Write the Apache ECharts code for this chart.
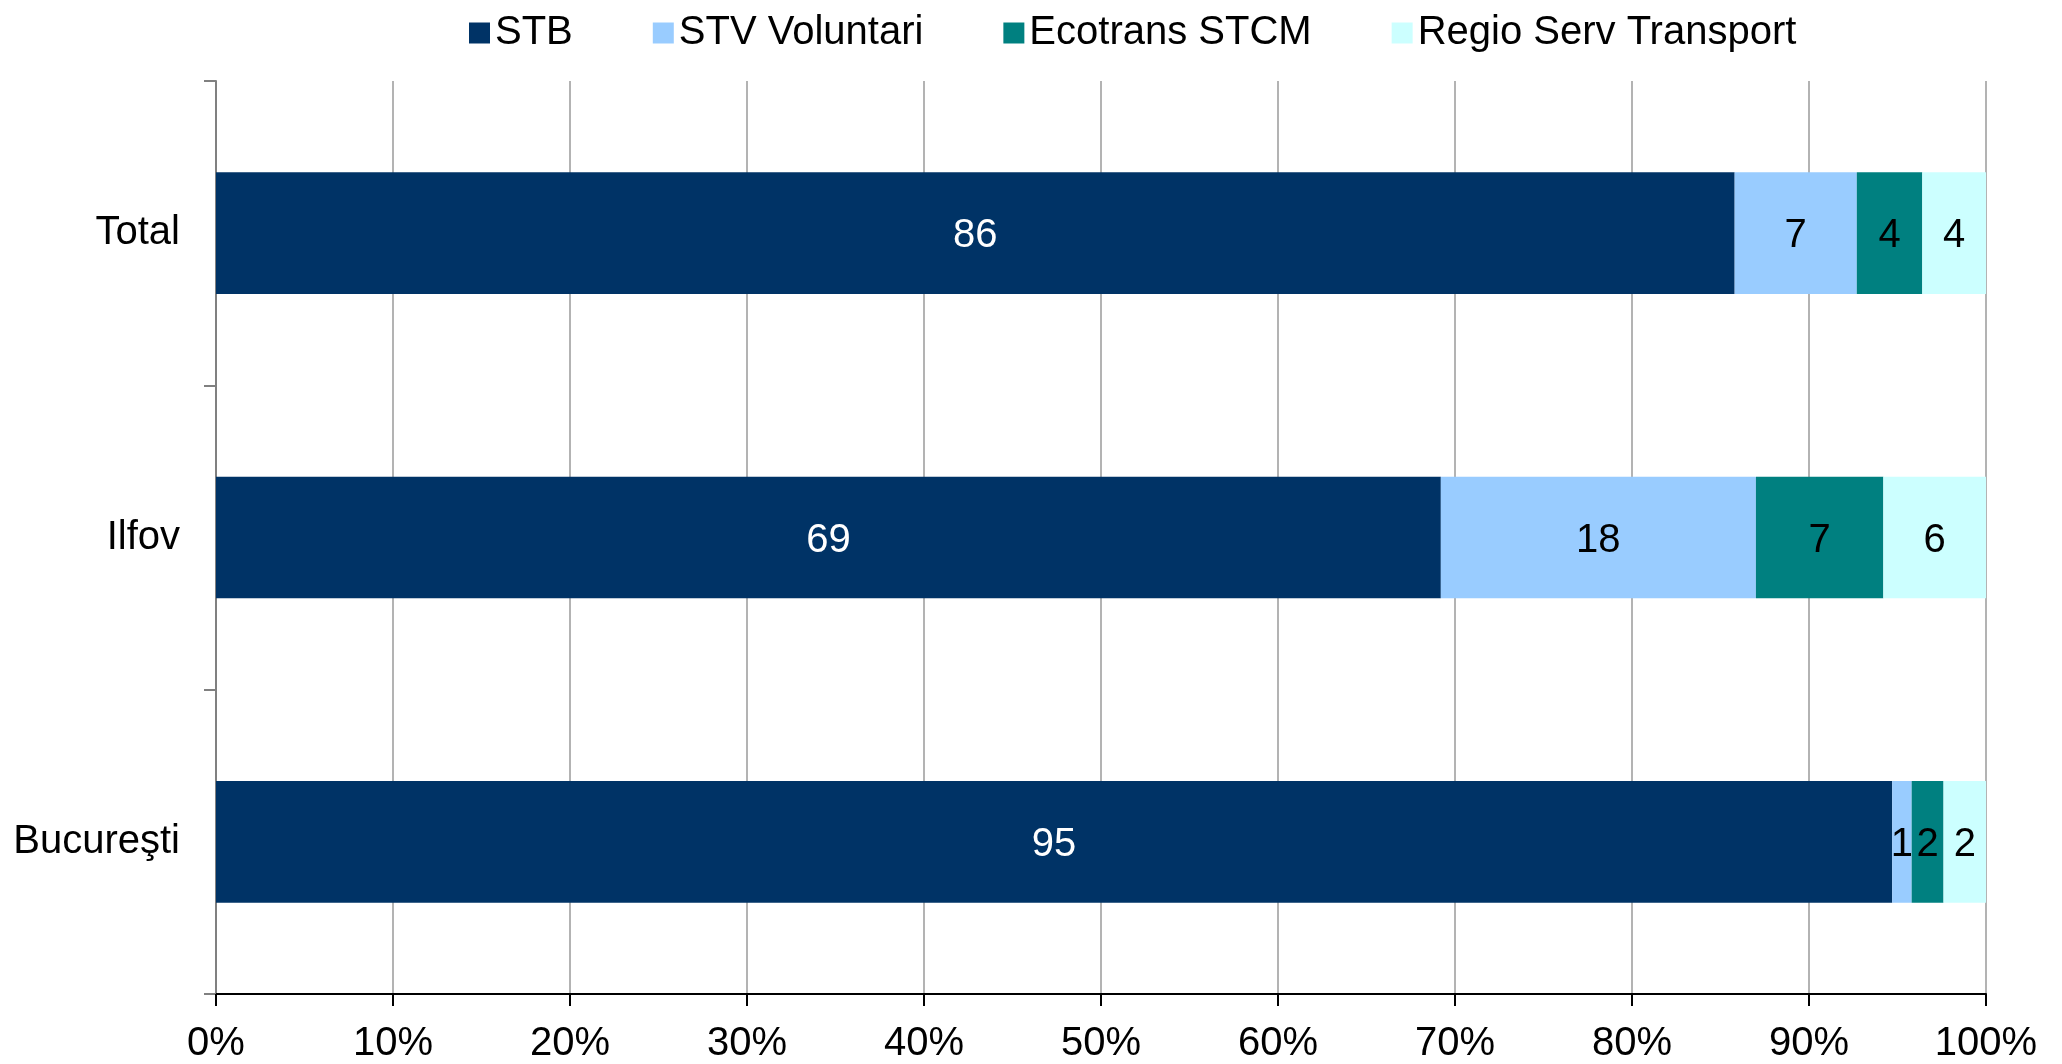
<!DOCTYPE html>
<html>
<head>
<meta charset="utf-8">
<script src="https://cdn.jsdelivr.net/npm/echarts@6/dist/echarts.min.js"></script>
<style>
  html, body { margin: 0; padding: 0; background: #fff; }
  #chart { width: 2062px; height: 1064px; }
</style>
</head>
<body>
<div id="chart"></div>
<script>
  // categories, bottom to top
  const categories = ['Bucureşti', 'Ilfov', 'Total']
  const xTicks = [0, 10, 20, 30, 40, 50, 60, 70, 80, 90, 100]

  // shares in %
  const stb = [94.7, 69.2, 85.8]
  const stvVoluntari = [1.1, 17.8, 6.9]
  const ecotrans = [1.8, 7.2, 3.7]
  const regioServ = [2.4, 5.8, 3.6]

  const font = 'Liberation Sans, Arial, sans-serif'

  function makeSeries(name, data, color, labelColor) {
    return {
      name,
      type: 'bar',
      stack: 'total',
      barWidth: '40%',
      data,
      itemStyle: { color },
      label: {
        show: true,
        position: 'inside',
        offset: [0, 3],
        color: labelColor,
        fontSize: 40,
        fontFamily: font,
        formatter: p => Math.round(p.value)
      }
    }
  }

  const chart = echarts.init(document.getElementById('chart'))
  chart.setOption({
    animation: false,
    legend: {
      top: 8,
      left: 464,
      itemWidth: 21,
      itemHeight: 21,
      itemGap: 80,
      icon: 'rect',
      textStyle: { fontSize: 40, fontFamily: font, color: '#000' },
      data: ['STB', 'STV Voluntari', 'Ecotrans STCM', 'Regio Serv Transport']
    },
    grid: { left: 216, right: 76, top: 81, bottom: 67 },
    xAxis: {
      type: 'value',
      min: xTicks[0],
      max: xTicks[xTicks.length - 1],
      interval: 10,
      axisLine: { show: true, lineStyle: { color: '#000', width: 2 } },
      axisTick: { show: true, length: 12, lineStyle: { color: '#000', width: 2 } },
      axisLabel: {
        fontSize: 40,
        fontFamily: font,
        color: '#000',
        margin: 30,
        formatter: v => v + '%'
      },
      splitLine: { show: true, lineStyle: { color: '#b3b3b3', width: 2 } }
    },
    yAxis: {
      type: 'category',
      data: categories,
      axisLine: { show: true, lineStyle: { color: '#808080', width: 2 } },
      axisTick: { show: true, length: 12, lineStyle: { color: '#808080', width: 2 } },
      axisLabel: { fontSize: 40, fontFamily: font, color: '#000', margin: 36, padding: [14, 0, 0, 0] }
    },
    series: [
      makeSeries('STB', stb, '#003366', '#fff'),
      makeSeries('STV Voluntari', stvVoluntari, '#99ccff', '#000'),
      makeSeries('Ecotrans STCM', ecotrans, '#008080', '#000'),
      makeSeries('Regio Serv Transport', regioServ, '#ccffff', '#000')
    ]
  })
</script>
</body>
</html>
